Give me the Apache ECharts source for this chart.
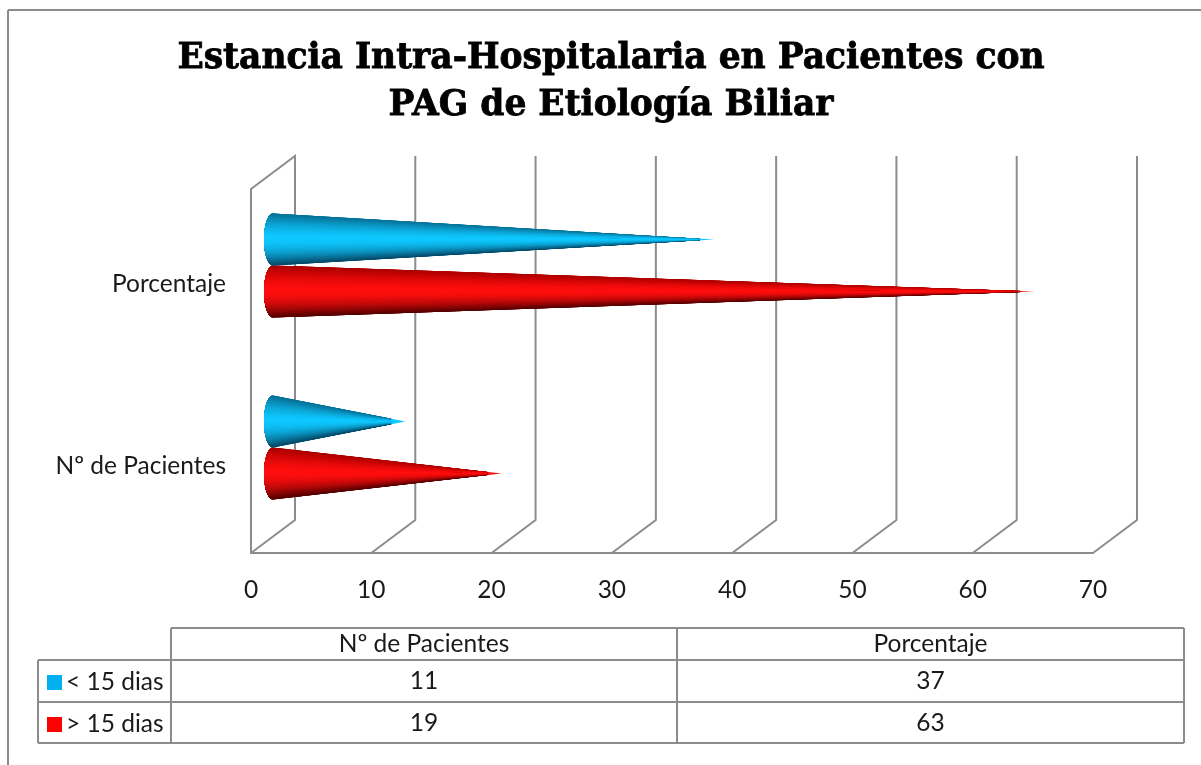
<!DOCTYPE html>
<html>
<head>
<meta charset="utf-8" />
<script src="https://cdn.jsdelivr.net/npm/echarts@6/dist/echarts.min.js"></script>
<style>
  html, body { margin: 0; padding: 0; background: #fff; }
  #chart { width: 1201px; height: 765px; }
</style>
</head>
<body>
<div id="chart"></div>
<script>
// data
var titleText = 'Estancia Intra-Hospitalaria en Pacientes con\nPAG de Etiología Biliar';
var categories = ['Nº de Pacientes', 'Porcentaje'];
var menos15 = [11, 36.67];
var mas15 = [19, 63.33];
var serieNames = ['< 15 dias', '> 15 dias'];
var ticks = [0, 10, 20, 30, 40, 50, 60, 70];

var lineColor = '#8c8c8c';
var textColor = '#1a1a1a';
var labelFont = 'Lato';
var labelSize = 24.5;
var depthX = 44, depthY = -33;

function wallItem(params, api) {
  var cs = params.coordSys;
  var x = api.coord([api.value(0), 0])[0];
  var bottom = cs.y + cs.height;
  var pts = [[x, bottom], [x + depthX, bottom + depthY], [x + depthX, cs.y + depthY]];
  if (params.dataIndex === 0) pts.push([x, cs.y]);
  return {
    type: 'polyline',
    shape: { points: pts },
    style: { fill: 'none', stroke: lineColor, lineWidth: 2 }
  };
}

// one cone = nested fans painted from the edges in towards the highlight.
// the fans stop short of the tip so the thin end does not build up dark edge pixels
function coneItem(side, shade) {
  return function (params, api) {
    var cIdx = api.value(1);
    var band = api.size([0, 1])[1];
    var ry = band * 0.143;
    var rx = 9;
    var base = api.coord([0, cIdx]);
    var tip = api.coord([api.value(0), cIdx]);
    var cx = base[0] + depthX / 2;
    var cy = base[1] + depthY / 2 + 2 + side * ry;
    var tx = tip[0] + depthX / 2;
    var n = 60, k = 28, cut = 1 - 14 / (tx - cx);
    function angle(i) { return -Math.PI / 2 + Math.PI * i / n; }
    function rim(i) { return [cx - rx * Math.cos(angle(i)), cy + ry * Math.sin(angle(i))]; }
    function toTip(p, f) { return [p[0] + (tx - p[0]) * f, p[1] + (cy - p[1]) * f]; }
    function arc(from, to) {
      var pts = [];
      for (var i = from; i <= to; i++) pts.push(rim(i));
      return pts;
    }
    function fan(from, to, s) {
      var pts = arc(from, to).concat([toTip(rim(to), cut), toTip(rim(from), cut)]);
      return { type: 'polygon', shape: { points: pts }, style: { fill: shade(s) } };
    }
    var midS = Math.sin(angle(k));
    var children = [{
      type: 'polygon',
      shape: { points: arc(0, n).concat([[tx, cy]]) },
      style: { fill: shade(midS) }
    }];
    for (var i = 0; i < k; i++) children.push(fan(i, k, Math.sin(angle(i))));
    for (var j = n; j > k; j--) children.push(fan(k, j, Math.sin(angle(j))));
    children.push(fan(k - 1, k + 1, midS));
    return { type: 'group', children: children };
  };
}

function mix(c1, c2, t) {
  return 'rgb(' + c1.map(function (v, i) { return Math.round(v + (c2[i] - v) * t); }).join(',') + ')';
}
function shader(edgeTop, mid, edgeBottom) {
  return function (s) {
    var h = -0.08;
    if (s < h) return mix(mid, edgeTop, Math.pow((h - s) / (1 + h), 1.6));
    return mix(mid, edgeBottom, Math.pow((s - h) / (1 - h), 2));
  };
}
var blueShade = shader([8, 112, 150], [14, 200, 255], [6, 70, 100]);
var redShade = shader([170, 0, 0], [255, 14, 14], [80, 0, 0]);

function pairs(values) {
  return values.map(function (v, i) { return [v, i]; });
}

// table under the chart
var colX = [38, 171, 677, 1184];
var rowY = [628, 660, 702, 743];
var tableLines = [
  [colX[1], rowY[0], colX[3], rowY[0]],
  [colX[0], rowY[1], colX[3], rowY[1]],
  [colX[0], rowY[2], colX[3], rowY[2]],
  [colX[0], rowY[3], colX[3], rowY[3]],
  [colX[0], rowY[1], colX[0], rowY[3]],
  [colX[1], rowY[0], colX[1], rowY[3]],
  [colX[2], rowY[0], colX[2], rowY[3]],
  [colX[3], rowY[0], colX[3], rowY[3]],
  // chart frame
  [8, 10, 1201, 10],
  [8, 10, 8, 765]
];
var graphics = tableLines.map(function (l) {
  return {
    type: 'line',
    shape: { x1: l[0], y1: l[1], x2: l[2], y2: l[3] },
    style: { stroke: lineColor, lineWidth: 2 },
    silent: true
  };
});
function cellText(str, col, yMid) {
  return {
    type: 'text',
    x: (colX[col] + colX[col + 1]) / 2,
    y: yMid,
    style: { text: str, fill: textColor, font: labelSize + 'px ' + labelFont, align: 'center', verticalAlign: 'middle' },
    silent: true
  };
}
categories.forEach(function (c, i) {
  graphics.push(cellText(c, i + 1, (rowY[0] + rowY[1]) / 2));
  graphics.push(cellText(String(Math.round(menos15[i])), i + 1, (rowY[1] + rowY[2]) / 2));
  graphics.push(cellText(String(Math.round(mas15[i])), i + 1, (rowY[2] + rowY[3]) / 2 + 1));
});

var chart = echarts.init(document.getElementById('chart'), null, { renderer: 'canvas' });
chart.setOption({
  animation: false,
  backgroundColor: '#fff',
  title: {
    text: titleText,
    left: 611,
    top: 36,
    padding: 0,
    textAlign: 'center',
    textStyle: {
      fontFamily: 'DejaVu Serif',
      fontWeight: 'bold',
      fontSize: 34.5,
      lineHeight: 47,
      color: '#000',
      textBorderColor: '#000',
      textBorderWidth: 0.8
    }
  },
  legend: {
    orient: 'vertical',
    left: 47,
    top: 670,
    padding: 0,
    itemWidth: 15,
    itemHeight: 15,
    itemGap: 17,
    icon: 'rect',
    data: serieNames,
    textStyle: { fontFamily: labelFont, fontSize: labelSize, lineHeight: 20, color: textColor, padding: [0, 0, 0, -1] }
  },
  grid: { left: 251, right: 108, top: 189, bottom: 212 },
  xAxis: {
    type: 'value',
    min: 0,
    max: 70,
    interval: 10,
    splitLine: { show: false },
    axisTick: { show: false },
    axisLine: { show: true, lineStyle: { color: lineColor, width: 2 } },
    axisLabel: { fontFamily: labelFont, fontSize: labelSize, color: textColor, margin: 25 }
  },
  yAxis: {
    type: 'category',
    data: categories,
    axisTick: { show: false },
    axisLine: { show: true, lineStyle: { color: lineColor, width: 2 } },
    axisLabel: { fontFamily: labelFont, fontSize: labelSize, color: textColor, margin: 25, verticalAlign: 'top', lineHeight: 8 }
  },
  series: [
    {
      type: 'custom',
      name: 'paredes',
      silent: true,
      z: 1,
      clip: false,
      data: ticks.map(function (t) { return [t, 0]; }),
      encode: { x: 0, y: 1 },
      renderItem: wallItem
    },
    {
      type: 'custom',
      name: serieNames[1],
      z: 3,
      clip: false,
      itemStyle: { color: '#ff0000' },
      data: pairs(mas15),
      encode: { x: 0, y: 1 },
      renderItem: coneItem(1, redShade)
    },
    {
      type: 'custom',
      name: serieNames[0],
      z: 4,
      clip: false,
      itemStyle: { color: '#00b0f0' },
      data: pairs(menos15),
      encode: { x: 0, y: 1 },
      renderItem: coneItem(-1, blueShade)
    }
  ],
  graphic: graphics
});
</script>
</body>
</html>
